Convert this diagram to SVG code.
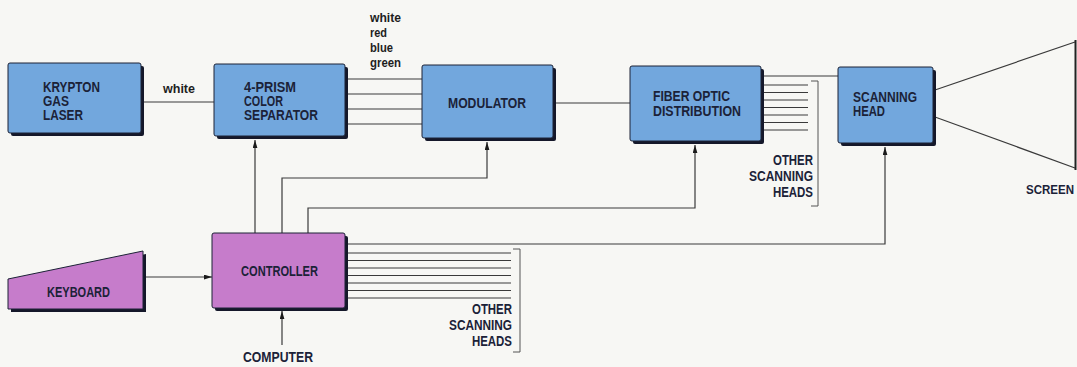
<svg xmlns="http://www.w3.org/2000/svg" width="1077" height="367" viewBox="0 0 1077 367">
<defs>
<style>
.bg{fill:#f7f7f4}
.shadow{fill:#15182a}
.blue{fill:#72a7dd;stroke:#1c2236;stroke-width:1}
.pink{fill:#c67ccb;stroke:#1c2236;stroke-width:1}
.lbl{font-family:"Liberation Sans",Arial,sans-serif;font-weight:bold;font-size:14px;fill:#1b2238}
.sm{font-family:"Liberation Sans",Arial,sans-serif;font-weight:bold;font-size:12px;fill:#1e1e1e}
.ln{stroke:#3a3a3a;stroke-width:1.2;fill:none}
.br{stroke:#555;stroke-width:1;fill:none}
</style>
<marker id="ah" viewBox="0 0 10 6" markerWidth="8" markerHeight="5" refX="10" refY="3" orient="auto" markerUnits="userSpaceOnUse">
<path d="M0,0 L10,3 L0,6 z" fill="#1a1a1a"/>
</marker>
</defs>
<rect class="bg" x="0" y="0" width="1077" height="367"/>

<g id="connectors">
<line class="ln" x1="144" y1="102" x2="214" y2="102"/>
<line class="ln" x1="348" y1="79" x2="422" y2="79"/>
<line class="ln" x1="348" y1="94" x2="422" y2="94"/>
<line class="ln" x1="348" y1="109" x2="422" y2="109"/>
<line class="ln" x1="348" y1="124" x2="422" y2="124"/>
<line class="ln" x1="556" y1="103" x2="630" y2="103"/>
<line class="ln" x1="764" y1="76" x2="838" y2="76"/>
<g class="ln">
<line x1="764" y1="85" x2="808" y2="85"/>
<line x1="764" y1="92.5" x2="808" y2="92.5"/>
<line x1="764" y1="100" x2="808" y2="100"/>
<line x1="764" y1="107.5" x2="808" y2="107.5"/>
<line x1="764" y1="115" x2="808" y2="115"/>
<line x1="764" y1="122.5" x2="808" y2="122.5"/>
<line x1="764" y1="130" x2="808" y2="130"/>
</g>
<polyline class="br" points="811,81 818,81 818,206 811,206"/>
<line class="ln" x1="935" y1="90" x2="1075" y2="42"/>
<line class="ln" x1="935" y1="117" x2="1075" y2="168"/>
<line x1="1075.5" y1="40" x2="1075.5" y2="170" stroke="#222" stroke-width="2"/>
<line class="ln" x1="255" y1="233" x2="255" y2="140" marker-end="url(#ah)"/>
<polyline class="ln" points="282,233 282,178 487,178 487,142" marker-end="url(#ah)"/>
<polyline class="ln" points="308,233 308,208 695,208 695,145" marker-end="url(#ah)"/>
<polyline class="ln" points="348,244 885,244 885,147" marker-end="url(#ah)"/>
<g class="ln">
<line x1="348" y1="253" x2="511" y2="253"/>
<line x1="348" y1="260.5" x2="511" y2="260.5"/>
<line x1="348" y1="268" x2="511" y2="268"/>
<line x1="348" y1="275.5" x2="511" y2="275.5"/>
<line x1="348" y1="283" x2="511" y2="283"/>
<line x1="348" y1="290.5" x2="511" y2="290.5"/>
<line x1="348" y1="298" x2="511" y2="298"/>
</g>
<polyline class="br" points="513,249 520,249 520,352 513,352"/>
<line class="ln" x1="144" y1="277" x2="212" y2="277" marker-end="url(#ah)"/>
<line class="ln" x1="282" y1="345" x2="282" y2="311" marker-end="url(#ah)"/>
</g>

<g id="laser">
<rect class="shadow" x="11" y="66" width="133" height="70" rx="2"/>
<rect class="blue" x="8" y="63" width="133" height="70" rx="2"/>
<text class="lbl" x="43" y="92" textLength="57" lengthAdjust="spacingAndGlyphs">KRYPTON</text>
<text class="lbl" x="43" y="106" textLength="26" lengthAdjust="spacingAndGlyphs">GAS</text>
<text class="lbl" x="43" y="120" textLength="40" lengthAdjust="spacingAndGlyphs">LASER</text>
</g>
<text class="sm" x="163" y="93" textLength="32" lengthAdjust="spacingAndGlyphs">white</text>

<g id="separator">
<rect class="shadow" x="217" y="67" width="131" height="72" rx="2"/>
<rect class="blue" x="214" y="64" width="131" height="72" rx="2"/>
<text class="lbl" x="244" y="92" textLength="52" lengthAdjust="spacingAndGlyphs">4-PRISM</text>
<text class="lbl" x="244" y="106" textLength="39" lengthAdjust="spacingAndGlyphs">COLOR</text>
<text class="lbl" x="244" y="120" textLength="74" lengthAdjust="spacingAndGlyphs">SEPARATOR</text>
</g>
<g id="color-labels">
<text class="sm" x="370" y="22" textLength="31" lengthAdjust="spacingAndGlyphs">white</text>
<text class="sm" x="370" y="37" textLength="17" lengthAdjust="spacingAndGlyphs">red</text>
<text class="sm" x="370" y="52" textLength="23" lengthAdjust="spacingAndGlyphs">blue</text>
<text class="sm" x="370" y="67" textLength="31" lengthAdjust="spacingAndGlyphs">green</text>
</g>

<g id="modulator">
<rect class="shadow" x="425" y="68" width="131" height="73" rx="2"/>
<rect class="blue" x="422" y="65" width="131" height="73" rx="2"/>
<text class="lbl" x="448" y="108" textLength="78" lengthAdjust="spacingAndGlyphs">MODULATOR</text>
</g>

<g id="fiber">
<rect class="shadow" x="633" y="69" width="131" height="75" rx="2"/>
<rect class="blue" x="630" y="66" width="131" height="75" rx="2"/>
<text class="lbl" x="653" y="101" textLength="77" lengthAdjust="spacingAndGlyphs">FIBER OPTIC</text>
<text class="lbl" x="653" y="116" textLength="88" lengthAdjust="spacingAndGlyphs">DISTRIBUTION</text>
</g>
<g id="other-heads-1">
<text class="lbl" x="813" y="165" text-anchor="end" textLength="40" lengthAdjust="spacingAndGlyphs">OTHER</text>
<text class="lbl" x="813" y="181" text-anchor="end" textLength="64" lengthAdjust="spacingAndGlyphs">SCANNING</text>
<text class="lbl" x="813" y="197" text-anchor="end" textLength="40" lengthAdjust="spacingAndGlyphs">HEADS</text>
</g>

<g id="scanning-head">
<rect class="shadow" x="841" y="70" width="95" height="76" rx="2"/>
<rect class="blue" x="838" y="67" width="95" height="76" rx="2"/>
<text class="lbl" x="853" y="102" textLength="64" lengthAdjust="spacingAndGlyphs">SCANNING</text>
<text class="lbl" x="853" y="116" textLength="32" lengthAdjust="spacingAndGlyphs">HEAD</text>
</g>
<text class="lbl" x="1026" y="194" style="font-size:12.5px" textLength="48" lengthAdjust="spacingAndGlyphs">SCREEN</text>

<g id="keyboard">
<polygon class="shadow" points="11,282 146,254 146,312 11,312"/>
<polygon class="pink" points="8,279 143,251 143,309 8,309"/>
<text class="lbl" x="47" y="297" textLength="63" lengthAdjust="spacingAndGlyphs">KEYBOARD</text>
</g>

<g id="controller">
<rect class="shadow" x="215" y="236" width="133" height="75" rx="2"/>
<rect class="pink" x="212" y="233" width="133" height="75" rx="2"/>
<text class="lbl" x="241" y="276" textLength="77" lengthAdjust="spacingAndGlyphs">CONTROLLER</text>
</g>
<g id="other-heads-2">
<text class="lbl" x="512" y="314" text-anchor="end" textLength="40" lengthAdjust="spacingAndGlyphs">OTHER</text>
<text class="lbl" x="512" y="330" text-anchor="end" textLength="63" lengthAdjust="spacingAndGlyphs">SCANNING</text>
<text class="lbl" x="512" y="346" text-anchor="end" textLength="40" lengthAdjust="spacingAndGlyphs">HEADS</text>
</g>
<text class="lbl" x="243" y="362" textLength="70" lengthAdjust="spacingAndGlyphs">COMPUTER</text>
</svg>
